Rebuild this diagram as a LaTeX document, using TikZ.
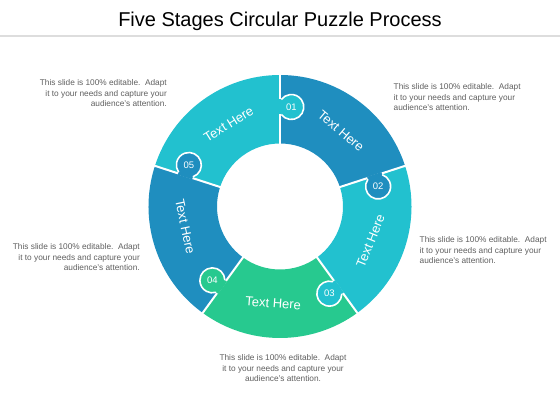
\documentclass[tikz,border=0pt]{standalone}
\usepackage{fontspec}
\setmainfont{Liberation Sans}
\definecolor{cblue}{HTML}{1F8EBF}
\definecolor{ccyan}{HTML}{22C1CF}
\definecolor{cgreen}{HTML}{27C98F}
\definecolor{txtgray}{HTML}{5F5F5F}
\definecolor{rulegray}{HTML}{DDDDDD}
\begin{document}
\begin{tikzpicture}[x=1pt,y=1pt,
  seglabel/.style={text=white,font=\fontsize{13}{15}\selectfont,inner sep=0},
  numlabel/.style={text=white,font=\fontsize{9.5}{10}\selectfont,inner sep=0},
  note/.style={text=txtgray,font=\fontsize{8.3}{10.5}\selectfont,inner sep=0},
  sepline/.style={white,line width=2pt},
  knobline/.style={white,line width=1.6pt}]
\useasboundingbox (0,0) rectangle (560,420);
\node[font=\fontsize{20}{24}\selectfont, anchor=base] (title) at (280,393.5) {Five Stages Circular Puzzle Process};
\coordinate (ruleL) at (0,384.2);
\coordinate (ruleR) at (560,384.2);
\draw[rulegray, line width=2.5pt] (ruleL) -- (ruleR);

\begin{scope}[shift={(280,213.5)}]
  \def\R{131.5}
  \def\r{63}
  \foreach \k/\c in {1/cblue,2/ccyan,3/cgreen,4/cblue,5/ccyan}{
    \pgfmathsetmacro\a{162-72*\k}
    \fill[\c] (\a:\R) arc[start angle=\a, end angle=\a-72, radius=\R]
      -- (\a-72:\r) arc[start angle=\a-72, end angle=\a, radius=\r] -- cycle;
  }
  \foreach \b in {90,18,-54,-126,162}{
    \draw[sepline] (\b:\r-1) -- (\b:\R+1);
  }
  \foreach \b/\c/\n in {90/ccyan/01,18/cblue/02,-54/ccyan/03,-126/cgreen/04,162/cblue/05}{
    \begin{scope}[rotate=\b]
      \fill[\c] (99.5,-11.3) circle[radius=12.5];
      \fill[\c] (92,-11.3) rectangle (107,1.3);
      \draw[knobline] (99.5,-11.3) ++(126.87:12.5) arc[start angle=126.87, end angle=413.13, radius=12.5];
      \node[numlabel] (n\n) at (99.5,-11.3) {\n};
    \end{scope}
  }
  \node[seglabel, rotate=-40] (t1) at (51:97) {Text Here};
  \node[seglabel, rotate=68] (t2) at (-21:97) {Text Here};
  \node[seglabel, rotate=-4] (t3) at (-94:97) {Text Here};
  \node[seglabel, rotate=-78] (t4) at (192:97) {Text Here};
  \node[seglabel, rotate=32] (t5) at (122:97) {Text Here};
\end{scope}

\node[note, align=right, anchor=north east] (d1) at (167,340.5) {This slide is 100\% editable.\ \ Adapt\\it to your needs and capture your\\audience's attention.};
\node[note, align=left, anchor=north west] (d2) at (393.5,336.7) {This slide is 100\% editable.\ \ Adapt\\it to your needs and capture your\\audience's attention.};
\node[note, align=right, anchor=north east] (d3) at (140,176.7) {This slide is 100\% editable.\ \ Adapt\\it to your needs and capture your\\audience's attention.};
\node[note, align=left, anchor=north west] (d4) at (419.5,183.3) {This slide is 100\% editable.\ \ Adapt\\it to your needs and capture your\\audience's attention.};
\node[note, align=center, anchor=north] (d5) at (283,65.7) {This slide is 100\% editable.\ \ Adapt\\it to your needs and capture your\\audience's attention.};
\end{tikzpicture}
\end{document}
